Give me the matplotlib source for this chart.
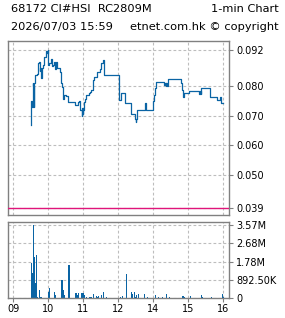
import numpy as np
import matplotlib
matplotlib.use("Agg")
from matplotlib import pyplot as plt

# price trace (1-min, drawn as steps)
price_times = ["09:31", "09:31", "09:32", "09:33", "09:34", "09:35", "09:36", "09:38", "09:40",
               "09:42", "09:44", "09:45", "09:46", "09:48", "09:49", "09:51", "09:53", "09:56",
               "09:58", "09:59", "10:00", "10:02", "10:04", "10:07", "10:08", "10:10", "10:11",
               "10:13", "10:15", "10:19", "10:20", "10:21", "10:23", "10:25", "10:27", "10:30",
               "10:33", "10:45", "10:51", "10:53", "10:55", "10:57", "10:58", "10:59", "11:00",
               "11:01", "11:03", "11:05", "11:10", "11:12", "11:14", "11:16", "11:19", "11:24",
               "11:28", "11:31", "11:34", "11:35", "11:36", "13:01", "13:02", "13:04", "13:12",
               "13:21", "13:22", "13:28", "13:30", "13:31", "13:32", "13:45", "13:47", "13:48",
               "13:59", "14:01", "14:03", "14:05", "14:18", "14:20", "14:21", "14:22", "14:23",
               "14:25", "14:48", "14:49", "14:51", "14:53", "15:02", "15:19", "15:20", "15:21",
               "15:22", "15:37", "15:49", "15:54", "15:56", "15:59"]
price_vals = [0.067, 0.075, 0.073, 0.081, 0.080, 0.073, 0.081, 0.0835, 0.084,
              0.0875, 0.088, 0.085, 0.086, 0.0825, 0.086, 0.087, 0.0895, 0.0915,
              0.091, 0.092, 0.087, 0.0875, 0.089, 0.0865, 0.087, 0.088, 0.0855,
              0.088, 0.086, 0.0858, 0.0845, 0.081, 0.0795, 0.0755, 0.077, 0.0765,
              0.0745, 0.0735, 0.0745, 0.0748, 0.072, 0.070, 0.0725, 0.0705, 0.072,
              0.0745, 0.0755, 0.077, 0.0775, 0.078, 0.0785, 0.082, 0.083, 0.0845,
              0.0855, 0.0875, 0.0885, 0.086, 0.0835, 0.0798, 0.0753, 0.0776, 0.0742,
              0.072, 0.0705, 0.069, 0.068, 0.069, 0.072, 0.0742, 0.0737, 0.072,
              0.0748, 0.077, 0.0792, 0.0811, 0.0801, 0.081, 0.080, 0.081, 0.080,
              0.0822, 0.081, 0.0787, 0.0762, 0.0777, 0.0783, 0.0772, 0.0783, 0.0772,
              0.0792, 0.0762, 0.0753, 0.0762, 0.0742, 0.0742]

ref_price = 0.039

# volume per minute
vol_times = ["09:30", "09:31", "09:32", "09:33", "09:34", "09:35", "09:36", "09:37", "09:38",
             "09:39", "09:40", "09:41", "09:44", "09:45", "09:47", "10:00", "10:01", "10:10",
             "10:11", "10:23", "10:25", "10:28", "10:35", "10:47", "10:49", "10:52", "10:56",
             "10:59", "11:01", "11:05", "11:11", "11:14", "11:17", "11:22", "11:24", "11:26",
             "11:31", "11:34", "11:39", "13:03", "13:06", "13:13", "13:22", "13:23", "13:28",
             "13:29", "13:31", "13:34", "13:44", "13:49", "14:03", "14:08", "14:16", "14:22",
             "14:27", "14:49", "14:51", "14:53", "15:03", "15:22", "15:24", "15:39", "15:58",
             "15:59"]
vol_vals = [1.72e6, 1.65e6, 1.18e6, 1.2e6, 3.57e6, 2.0e6, 1.9e6, 0.7e6, 0.75e6,
            2.1e6, 0.1e6, 0.05e6, 0.28e6, 0.37e6, 0.05e6, 0.28e6, 0.5e6, 0.28e6,
            0.15e6, 0.87e6, 0.4e6, 0.15e6, 1.6e6, 0.25e6, 0.15e6, 0.25e6, 0.25e6,
            0.25e6, 0.15e6, 0.05e6, 0.05e6, 0.05e6, 0.2e6, 0.1e6, 0.05e6, 0.1e6,
            0.17e6, 0.3e6, 0.05e6, 0.05e6, 0.1e6, 1.15e6, 0.27e6, 0.2e6, 0.3e6,
            0.05e6, 0.15e6, 0.2e6, 0.2e6, 0.05e6, 0.17e6, 0.05e6, 0.05e6, 0.2e6,
            0.05e6, 0.1e6, 0.1e6, 0.05e6, 0.1e6, 0.17e6, 0.05e6, 0.05e6, 0.22e6,
            0.05e6]

hour_labels = ["09", "10", "11", "12", "14", "15", "16"]
price_ticks = [0.092, 0.080, 0.070, 0.060, 0.050, 0.039]
price_tick_labels = ["0.092", "0.080", "0.070", "0.060", "0.050", "0.039"]
vol_ticks = [0, 892500, 1785000, 2677500, 3570000]
vol_tick_labels = ["0", "892.50K", "1.78M", "2.68M", "3.57M"]


def to_pos(t):
    h, m = int(t[:2]), int(t[3:])
    # lunch break removed: 13:00 sits where 12:00 is
    if h >= 13:
        return h - 10 + m / 60
    return h - 9 + m / 60


BLUE = "#0a64a4"
GRID = "#bdbdbd"
FRAME = "#808080"

plt.rcParams["font.family"] = "DejaVu Sans"
fig = plt.figure(figsize=(2.85, 3.18), dpi=100)
ax1 = fig.add_axes([8 / 285, 1 - 215 / 318, 221 / 285, 174 / 318])
ax2 = fig.add_axes([8 / 285, 1 - 298 / 318, 221 / 285, 76 / 318])

px = [to_pos(t) for t in price_times]
ax1.step(px, price_vals, where="post", color=BLUE, lw=0.9)
ax1.axhline(ref_price, color="#e0157a", lw=1.0, zorder=3)

# bars about one pixel wide, as on the original
vx = [to_pos(t) + 0.5 / 60 for t in vol_times]
ax2.bar(vx, vol_vals, width=1.8 / 60, color=BLUE, linewidth=0)

xmin, xmax = -0.151, 6.163
for ax in (ax1, ax2):
    ax.set_xlim(xmin, xmax)
    ax.set_xticks(range(len(hour_labels)))
    ax.grid(True, color=GRID, ls=(0, (2.5, 2)), lw=0.8)
    ax.set_axisbelow(True)
    for s in ax.spines.values():
        s.set_color(FRAME)
        s.set_linewidth(1.0)
    ax.yaxis.tick_right()
    ax.tick_params(axis="y", right=True, left=False, length=3, width=0.8,
                   color=FRAME, labelsize=7, pad=2)

ax1.set_ylim(0.03667, 0.095)
ax1.set_yticks(price_ticks)
ax1.set_yticklabels(price_tick_labels)
ax1.tick_params(axis="x", bottom=False, labelbottom=False)

ax2.set_ylim(0, 3.57e6 * 76 / 73)
ax2.set_yticks(vol_ticks)
ax2.set_yticklabels(vol_tick_labels)
ax2.set_xticklabels(hour_labels)
ax2.tick_params(axis="x", length=3, width=0.8, color=FRAME, labelsize=7, pad=1)

fig.text(11 / 285, 1 - 9.5 / 318, "68172 CI#HSI  RC2809M", fontsize=8.2, va="center", ha="left")
fig.text(279 / 285, 1 - 9.5 / 318, "1-min Chart", fontsize=8.2, va="center", ha="right")
fig.text(11 / 285, 1 - 27 / 318, "2026/07/03 15:59", fontsize=8.2, va="center", ha="left")
fig.text(279 / 285, 1 - 27 / 318, "etnet.com.hk \u00a9 copyright", fontsize=8.2, va="center", ha="right")

fig.savefig("out.png", dpi=100)
